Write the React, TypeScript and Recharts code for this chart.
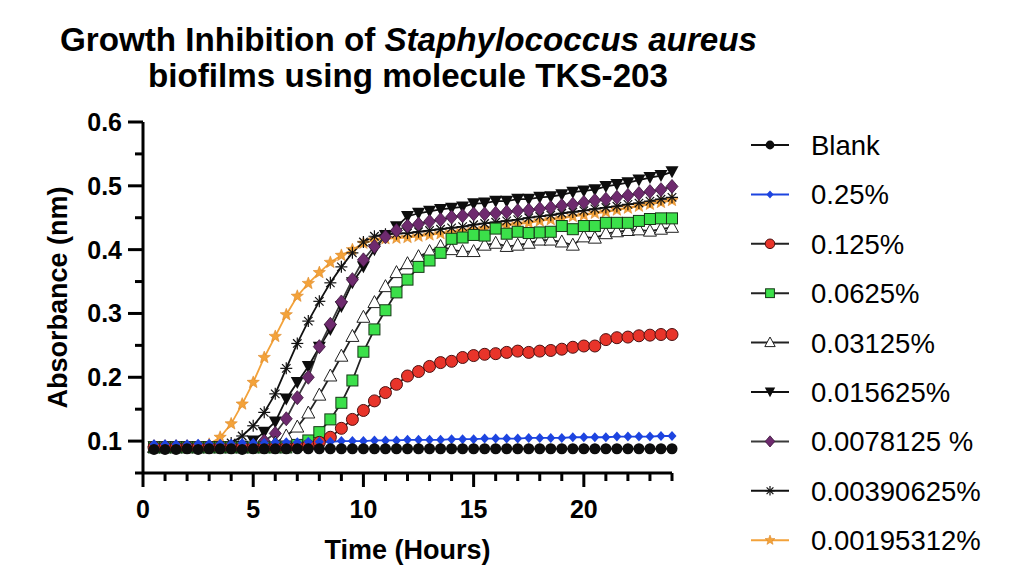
import React from 'react';
import { LineChart, Line, XAxis, YAxis, Legend, Label } from 'recharts';

const FONT = '"Liberation Sans", Arial, Helvetica, sans-serif';

// time points (hours)
const times = [
  0.5, 1, 1.5, 2, 2.5, 3, 3.5, 4, 4.5, 5, 5.5, 6, 6.5, 7, 7.5, 8, 8.5, 9, 9.5, 10,
  10.5, 11, 11.5, 12, 12.5, 13, 13.5, 14, 14.5, 15, 15.5, 16, 16.5, 17, 17.5, 18,
  18.5, 19, 19.5, 20, 20.5, 21, 21.5, 22, 22.5, 23, 23.5, 24,
];

const blank = [
  0.087, 0.087, 0.087, 0.088, 0.087, 0.088, 0.088, 0.088, 0.087, 0.088, 0.088, 0.088,
  0.088, 0.088, 0.088, 0.088, 0.088, 0.088, 0.088, 0.088, 0.088, 0.088, 0.088, 0.088,
  0.088, 0.088, 0.088, 0.088, 0.088, 0.088, 0.088, 0.088, 0.088, 0.088, 0.088, 0.088,
  0.088, 0.088, 0.088, 0.088, 0.088, 0.088, 0.088, 0.088, 0.088, 0.088, 0.088, 0.088,
];

const pct025 = [
  0.095, 0.095, 0.095, 0.095, 0.096, 0.096, 0.096, 0.096, 0.097, 0.097,
  0.097, 0.098, 0.098, 0.098, 0.099, 0.099, 0.099, 0.1, 0.1, 0.1,
  0.101, 0.101, 0.101, 0.102, 0.102, 0.102, 0.102, 0.103, 0.103, 0.103,
  0.104, 0.104, 0.104, 0.104, 0.105, 0.105, 0.105, 0.105, 0.106, 0.106,
  0.106, 0.106, 0.107, 0.107, 0.107, 0.107, 0.108, 0.108,
];

const pct0125 = [
  0.09, 0.09, 0.09, 0.09, 0.09, 0.09, 0.09, 0.09, 0.09, 0.09, 0.09, 0.09, 0.09,
  0.091, 0.093, 0.098, 0.106, 0.12, 0.134, 0.148, 0.163, 0.176, 0.189, 0.202,
  0.209, 0.217, 0.223, 0.225, 0.231, 0.234, 0.236, 0.237, 0.239, 0.241, 0.239, 0.241,
  0.242, 0.244, 0.247, 0.249, 0.249, 0.259, 0.262, 0.263, 0.265, 0.266, 0.267, 0.267,
];

const pct0625 = [
  0.09, 0.09, 0.09, 0.09, 0.09, 0.09, 0.09, 0.09, 0.09, 0.09, 0.09, 0.09, 0.09,
  0.094, 0.101, 0.114, 0.134, 0.16, 0.195, 0.24, 0.275, 0.305, 0.333, 0.353,
  0.373, 0.383, 0.395, 0.417, 0.419, 0.423, 0.422, 0.433, 0.425, 0.428, 0.426, 0.427,
  0.428, 0.437, 0.432, 0.437, 0.437, 0.442, 0.442, 0.442, 0.445, 0.448, 0.449, 0.449,
];

const pct03125 = [
  0.09, 0.09, 0.09, 0.09, 0.09, 0.09, 0.09, 0.09, 0.09, 0.09, 0.09,
  0.097, 0.108, 0.122, 0.144, 0.172, 0.202, 0.233, 0.264, 0.294, 0.317, 0.342, 0.364, 0.378,
  0.389, 0.397, 0.405, 0.4, 0.397, 0.397, 0.407, 0.41, 0.405, 0.407, 0.41, 0.415,
  0.415, 0.412, 0.407, 0.42, 0.418, 0.425, 0.428, 0.43, 0.431, 0.429, 0.432, 0.435,
];

const pct015625 = [
  0.091, 0.091, 0.091, 0.091, 0.091, 0.091, 0.091, 0.091, 0.092,
  0.1, 0.114, 0.13, 0.166, 0.192, 0.217, 0.247, 0.275, 0.311, 0.348, 0.373, 0.4, 0.422, 0.436, 0.452,
  0.457, 0.46, 0.463, 0.465, 0.467, 0.472, 0.473, 0.476, 0.476, 0.479, 0.479, 0.482,
  0.483, 0.486, 0.49, 0.492, 0.494, 0.499, 0.502, 0.505, 0.509, 0.513, 0.516, 0.522,
];

const pct0078 = [
  0.091, 0.091, 0.091, 0.091, 0.091, 0.091, 0.091, 0.091, 0.091, 0.093,
  0.1, 0.112, 0.135, 0.168, 0.2, 0.248, 0.283, 0.318, 0.353, 0.384, 0.405, 0.42, 0.43, 0.437,
  0.44, 0.444, 0.447, 0.451, 0.453, 0.456, 0.456, 0.457, 0.459, 0.461, 0.462, 0.464,
  0.466, 0.469, 0.471, 0.474, 0.477, 0.479, 0.482, 0.485, 0.488, 0.491, 0.494, 0.499,
];

const pct0039 = [
  0.091, 0.091, 0.091, 0.091, 0.091, 0.091, 0.092,
  0.097, 0.108, 0.124, 0.145, 0.174, 0.214, 0.253, 0.288, 0.319, 0.348, 0.373, 0.395,
  0.412, 0.421, 0.424, 0.425, 0.426,
  0.428, 0.43, 0.432, 0.434, 0.436, 0.439, 0.441, 0.443, 0.445, 0.447, 0.45, 0.452,
  0.454, 0.457, 0.459, 0.461, 0.464, 0.466, 0.468, 0.471, 0.473, 0.476, 0.479, 0.482,
];

const pct0019 = [
  0.092, 0.092, 0.092, 0.092, 0.092,
  0.095, 0.106, 0.127, 0.158, 0.192, 0.231, 0.264, 0.298, 0.327, 0.347, 0.364, 0.38, 0.391,
  0.4, 0.41, 0.415, 0.417, 0.418, 0.419,
  0.421, 0.423, 0.425, 0.427, 0.429, 0.431, 0.433, 0.436, 0.438, 0.44, 0.442, 0.445,
  0.447, 0.449, 0.452, 0.454, 0.457, 0.459, 0.462, 0.465, 0.468, 0.471, 0.474, 0.477,
];

const xTicks = [0, 1, 2, 3, 4, 5, 6, 7, 8, 9, 10, 11, 12, 13, 14, 15, 16, 17, 18, 19, 20, 21, 22, 23, 24];
const yTicks = [0.05, 0.1, 0.15, 0.2, 0.25, 0.3, 0.35, 0.4, 0.45, 0.5, 0.55, 0.6];

type Kind = 'dot' | 'bdiamond' | 'rcircle' | 'square' | 'triup' | 'tridown' | 'pdiamond' | 'asterisk' | 'star';

const series: { key: string; name: string; values: number[]; line: string; kind: Kind }[] = [
  { key: 'blank', name: 'Blank', values: blank, line: '#111', kind: 'dot' },
  { key: 'p025', name: '0.25%', values: pct025, line: '#1d44e0', kind: 'bdiamond' },
  { key: 'p0125', name: '0.125%', values: pct0125, line: '#222', kind: 'rcircle' },
  { key: 'p0625', name: '0.0625%', values: pct0625, line: '#222', kind: 'square' },
  { key: 'p03125', name: '0.03125%', values: pct03125, line: '#222', kind: 'triup' },
  { key: 'p015625', name: '0.015625%', values: pct015625, line: '#111', kind: 'tridown' },
  { key: 'p0078', name: '0.0078125 %', values: pct0078, line: '#3a3a3a', kind: 'pdiamond' },
  { key: 'p0039', name: '0.00390625%', values: pct0039, line: '#111', kind: 'asterisk' },
  { key: 'p0019', name: '0.00195312%', values: pct0019, line: '#f3a23a', kind: 'star' },
];

const rows = times.map((t, i) => {
  const r: Record<string, number> = { t };
  series.forEach((s) => (r[s.key] = s.values[i]));
  return r;
});

// bottom-most first
const drawOrder = ['p0019', 'p0039', 'p015625', 'p0078', 'p03125', 'p0625', 'p0125', 'p025', 'blank'];

function Marker({ kind, cx, cy, s = 1 }: { kind: Kind; cx: number; cy: number; s?: number }) {
  if (cx == null || cy == null) return null;
  switch (kind) {
    case 'dot':
      return <circle cx={cx} cy={cy} r={5.5 * s} fill="#0d0d0d" />;
    case 'bdiamond':
      return (
        <polygon
          points={`${cx},${cy - 5 * s} ${cx + 4.5 * s},${cy} ${cx},${cy + 5 * s} ${cx - 4.5 * s},${cy}`}
          fill="#1d44e0"
        />
      );
    case 'rcircle':
      return <circle cx={cx} cy={cy} r={6 * s} fill="#e8342a" stroke="#4a1010" strokeWidth={1} />;
    case 'square':
      return (
        <rect x={cx - 5.5 * s} y={cy - 5.5 * s} width={11 * s} height={11 * s} fill="#3be04a" stroke="#163816" strokeWidth={1} />
      );
    case 'triup':
      return (
        <polygon
          points={`${cx},${cy - 7 * s} ${cx + 6.5 * s},${cy + 5 * s} ${cx - 6.5 * s},${cy + 5 * s}`}
          fill="#fff"
          stroke="#222"
          strokeWidth={1}
        />
      );
    case 'tridown':
      return (
        <polygon
          points={`${cx - 6.5 * s},${cy - 5.5 * s} ${cx + 6.5 * s},${cy - 5.5 * s} ${cx},${cy + 6.5 * s}`}
          fill="#0d0d0d"
        />
      );
    case 'pdiamond':
      return (
        <polygon
          points={`${cx},${cy - 7 * s} ${cx + 6 * s},${cy} ${cx},${cy + 7 * s} ${cx - 6 * s},${cy}`}
          fill="#6e2a6e"
          stroke="#3a153a"
          strokeWidth={0.8}
        />
      );
    case 'asterisk': {
      const r = 6 * s;
      const d = r * 0.707;
      return (
        <g stroke="#111" strokeWidth={1.2}>
          <line x1={cx - r} y1={cy} x2={cx + r} y2={cy} />
          <line x1={cx} y1={cy - r} x2={cx} y2={cy + r} />
          <line x1={cx - d} y1={cy - d} x2={cx + d} y2={cy + d} />
          <line x1={cx - d} y1={cy + d} x2={cx + d} y2={cy - d} />
        </g>
      );
    }
    case 'star': {
      const pts: string[] = [];
      for (let k = 0; k < 10; k++) {
        const rad = (k % 2 === 0 ? 6.5 : 2.8) * s;
        const a = -Math.PI / 2 + (k * Math.PI) / 5;
        pts.push(`${cx + rad * Math.cos(a)},${cy + rad * Math.sin(a)}`);
      }
      return <polygon points={pts.join(' ')} fill="#f3a23a" stroke="#d9801f" strokeWidth={0.5} />;
    }
  }
  return null;
}

const XTick = (props: any) => {
  const { x, y, payload } = props;
  const major = payload.value % 5 === 0;
  return (
    <g>
      <line x1={x} x2={x} y1={y} y2={y + (major ? 14 : 8)} stroke="#000" strokeWidth={3} />
      {major && (
        <text x={x} y={y + 45} textAnchor="middle" fontSize={25} fontWeight="bold" fontFamily={FONT} fill="#000">
          {payload.value}
        </text>
      )}
    </g>
  );
};

const YTick = (props: any) => {
  const { x, y, payload } = props;
  const v = payload.value;
  const major = Math.abs(v * 10 - Math.round(v * 10)) < 1e-6;
  return (
    <g>
      <line x1={x} x2={x - (major ? 15 : 8)} y1={y} y2={y} stroke="#000" strokeWidth={3} />
      {major && (
        <text x={x - 21} y={y + 9} textAnchor="end" fontSize={25} fontWeight="bold" fontFamily={FONT} fill="#000">
          {v.toFixed(1)}
        </text>
      )}
    </g>
  );
};

const YTitle = (props: any) => {
  const vb = props.viewBox;
  const x = vb.x + 24;
  const y = vb.y + vb.height / 2;
  return (
    <text
      x={x}
      y={y}
      transform={`rotate(-90, ${x}, ${y})`}
      textAnchor="middle"
      fontSize={27}
      fontWeight="bold"
      fontFamily={FONT}
      fill="#000"
    >
      Absorbance (nm)
    </text>
  );
};

const XTitle = (props: any) => {
  const vb = props.viewBox;
  return (
    <text
      x={vb.x + vb.width / 2}
      y={vb.y + 86}
      textAnchor="middle"
      fontSize={27}
      fontWeight="bold"
      fontFamily={FONT}
      fill="#000"
    >
      Time (Hours)
    </text>
  );
};

const renderLegend = () => (
  <svg width={276} height={440}>
    {series.map((s, i) => {
      const y = 17 + i * 49.4;
      return (
        <g key={s.key}>
          <line x1={3} x2={41} y1={y} y2={y} stroke={s.line} strokeWidth={2} />
          <Marker kind={s.kind} cx={22} cy={y} s={0.8} />
          <text x={63} y={y + 10} fontSize={27.5} fontFamily={FONT} fill="#000">
            {s.name}
          </text>
        </g>
      );
    })}
  </svg>
);

export default function App() {
  return (
    <div style={{ position: 'absolute', left: 0, top: 0, width: 1024, height: 576, background: '#fff' }}>
      <svg width={1024} height={110} style={{ position: 'absolute', left: 0, top: 0 }}>
        <text
          x={408.5}
          y={51}
          textAnchor="middle"
          fontSize={34}
          fontWeight="bold"
          fontFamily={FONT}
          textLength={697}
          lengthAdjust="spacingAndGlyphs"
        >
          Growth Inhibition of <tspan fontStyle="italic">Staphylococcus aureus</tspan>
        </text>
        <text
          x={408}
          y={87}
          textAnchor="middle"
          fontSize={34}
          fontWeight="bold"
          fontFamily={FONT}
          textLength={520}
          lengthAdjust="spacingAndGlyphs"
        >
          biofilms using molecule TKS-203
        </text>
      </svg>
      <div style={{ position: 'absolute', left: 0, top: 0 }}>
        <LineChart
          width={1024}
          height={576}
          data={rows}
          margin={{ top: 122, right: 352, bottom: 23, left: 43 }}
        >
          <XAxis
            dataKey="t"
            type="number"
            domain={[0, 24]}
            ticks={xTicks}
            interval={0}
            tickSize={0}
            tickMargin={0}
            tickLine={false}
            axisLine={{ stroke: '#000', strokeWidth: 3 }}
            tick={<XTick />}
            height={80}
          >
            <Label content={<XTitle />} />
          </XAxis>
          <YAxis
            type="number"
            domain={[0.05, 0.6]}
            ticks={yTicks}
            interval={0}
            tickSize={0}
            tickMargin={0}
            tickLine={false}
            axisLine={{ stroke: '#000', strokeWidth: 3 }}
            tick={<YTick />}
            width={100}
            allowDataOverflow
          >
            <Label content={<YTitle />} />
          </YAxis>
          <Legend
            layout="horizontal"
            verticalAlign="middle"
            align="center"
            content={renderLegend}
            wrapperStyle={{ left: 748, top: 128, width: 276, height: 440 }}
          />
          {drawOrder.map((k) => {
            const s = series.find((x) => x.key === k)!;
            return (
              <Line
                key={s.key}
                dataKey={s.key}
                name={s.name}
                type="linear"
                stroke={s.line}
                strokeWidth={1.8}
                isAnimationActive={false}
                dot={(p: any) => <Marker key={`${s.key}-${p.index}`} kind={s.kind} cx={p.cx} cy={p.cy} />}
                activeDot={false}
              />
            );
          })}
        </LineChart>
      </div>
    </div>
  );
}
